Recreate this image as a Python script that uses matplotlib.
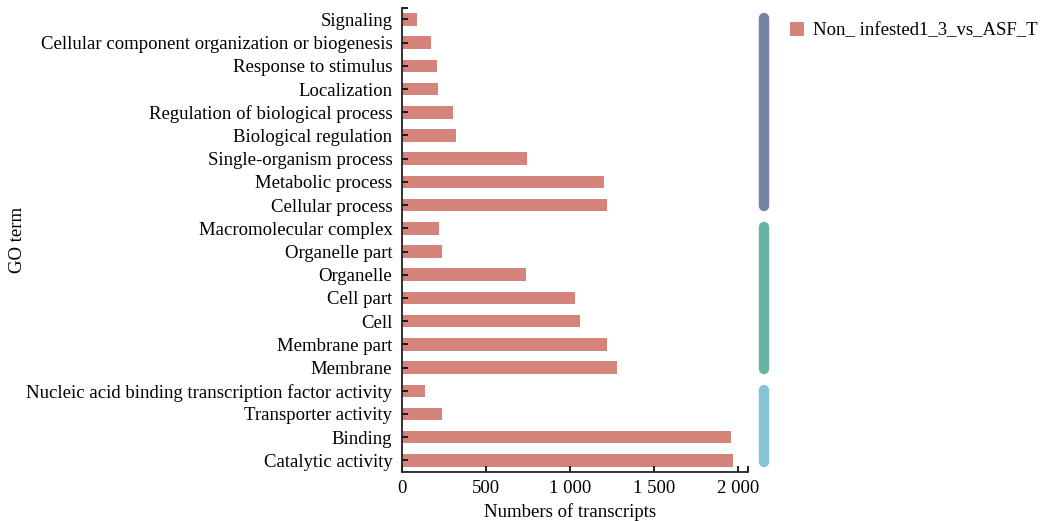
import matplotlib
matplotlib.use("Agg")
import matplotlib.pyplot as plt
from matplotlib.patches import Patch
import matplotlib.transforms as mtransforms

plt.rcParams['font.family'] = ['Liberation Serif', 'DejaVu Serif']

# GO terms, top to bottom
terms = [
    "Signaling",
    "Cellular component organization or biogenesis",
    "Response to stimulus",
    "Localization",
    "Regulation of biological process",
    "Biological regulation",
    "Single-organism process",
    "Metabolic process",
    "Cellular process",
    "Macromolecular complex",
    "Organelle part",
    "Organelle",
    "Cell part",
    "Cell",
    "Membrane part",
    "Membrane",
    "Nucleic acid binding transcription factor activity",
    "Transporter activity",
    "Binding",
    "Catalytic activity",
]
counts = [87, 175, 206, 212, 305, 321, 746, 1200, 1218,
          222, 238, 736, 1028, 1058, 1222, 1276,
          135, 240, 1956, 1968]
group_sizes = [9, 7, 4]
group_colors = ["#7683A3", "#67B4A4", "#86C4D5"]
series_name = "Non_ infested1_3_vs_ASF_T"
xticks = [0, 500, 1000, 1500, 2000]
xticklabels = ["0", "500", "1 000", "1 500", "2 000"]

bar_color = "#D5847B"
fs = 13.5

fig = plt.figure(figsize=(10.43, 5.21), dpi=100)
ax = fig.add_axes([0.3855, 0.094, 0.332, 0.891])

n = len(terms)
ypos = [n - 1 - i for i in range(n)]
ax.barh(ypos, counts, height=0.54, color=bar_color)

ax.set_ylim(-0.5, n - 0.5)
ax.set_xlim(0, 2060)
ax.set_yticks(ypos)
ax.set_yticklabels(terms, fontsize=fs)
ax.set_xticks(xticks)
ax.set_xticklabels(xticklabels, fontsize=fs)

# end marks on the axis lines
ax.set_xticks([2060], minor=True)
ax.set_yticks([n - 0.5], minor=True)

for spine in ["top", "right"]:
    ax.spines[spine].set_visible(False)
for spine in ["left", "bottom"]:
    ax.spines[spine].set_linewidth(1.3)
    ax.spines[spine].set_color("#222222")

ax.tick_params(axis="both", which="both", direction="in", length=4.5,
               width=1.3, color="#111111")
ax.tick_params(axis="y", pad=7)
ax.tick_params(axis="x", pad=6)

ax.set_xlabel("Numbers of transcripts", fontsize=fs, labelpad=0)
ax.set_ylabel("GO term", fontsize=fs)
ax.yaxis.set_label_coords(-1.085, 0.5)
ax.xaxis.set_label_coords(0.485, -0.066)

# coloured category brackets on the right
trans = mtransforms.blended_transform_factory(ax.transAxes, ax.transData)
start = 0
for size, color in zip(group_sizes, group_colors):
    top = ypos[start]
    bottom = ypos[start + size - 1]
    ax.plot([1.046, 1.046], [top + 0.05, bottom - 0.05], transform=trans,
            color=color, linewidth=7.5, solid_capstyle="round", clip_on=False)
    start += size

fig.legend(handles=[Patch(facecolor=bar_color, edgecolor="none", label=series_name)],
           loc="upper left", bbox_to_anchor=(0.741, 0.99), frameon=False,
           fontsize=fs, handlelength=0.75, handleheight=0.75, handletextpad=0.5)

fig.savefig("out.png", dpi=100)
